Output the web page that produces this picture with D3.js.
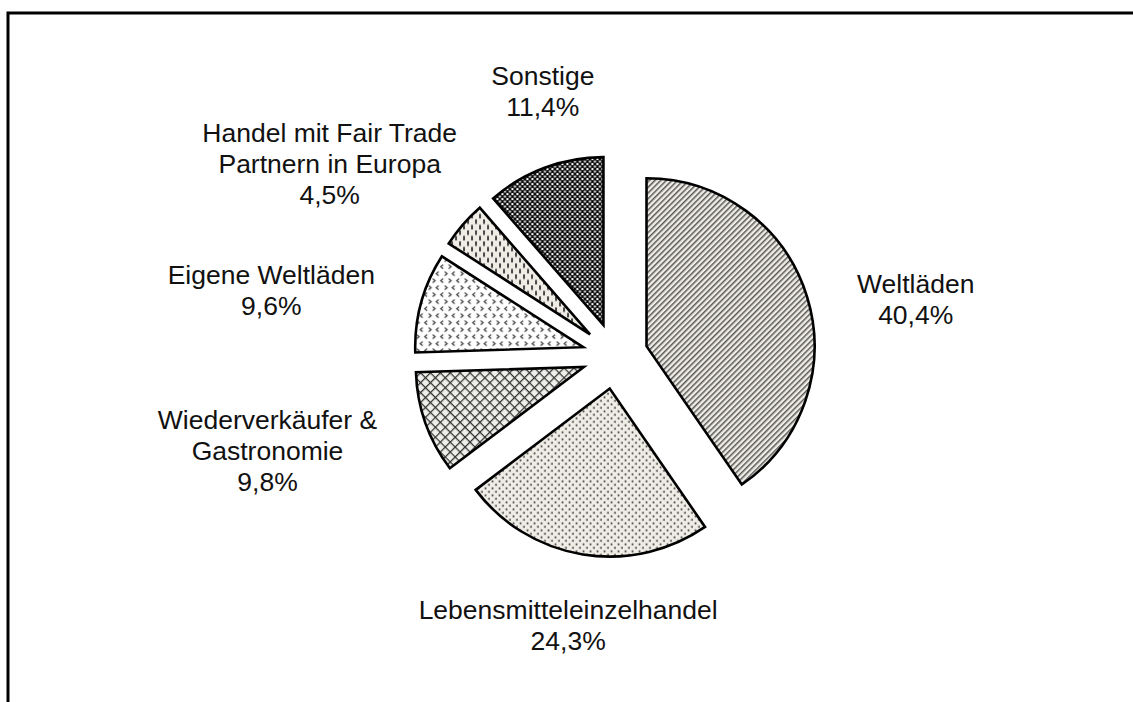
<!DOCTYPE html>
<html>
<head>
<meta charset="utf-8">
<script src="https://cdn.jsdelivr.net/npm/d3@7"></script>
<style>
  body { margin: 0; background: #fff; }
  svg { display: block; }
  text { font-family: "Liberation Sans", Arial, sans-serif; font-size: 26.5px; fill: #111; }
</style>
</head>
<body>
<svg id="chart" width="1133" height="702"></svg>
<script>
// data, clockwise from 12 o'clock
let categories = ["Weltläden", "Lebensmitteleinzelhandel", "Wiederverkäufer & Gastronomie",
                  "Eigene Weltläden", "Handel mit Fair Trade Partnern in Europa", "Sonstige"];
let shares = [40.4, 24.3, 9.8, 9.6, 4.5, 11.4];
let labelLines = [
    ["Weltläden"],
    ["Lebensmitteleinzelhandel"],
    ["Wiederverkäufer &", "Gastronomie"],
    ["Eigene Weltläden"],
    ["Handel mit Fair Trade", "Partnern in Europa"],
    ["Sonstige"]
];
let patterns = ["hatch", "dots", "cross", "chevron", "dash", "checker"];

// label placement: distance from centre and angle nudge (degrees)
let labelR = [306, 273, 360, 350, 344, 275];
let labelNudge = [6.6, 0.7, 4.3, -4.6, -6.9, 5.3];

let fmt = v => d3.format(".1f")(v).replace(".", ",") + "%";

let svg = d3.select("#chart");
let width = 1133, height = 702;

// frame
svg.append("rect")
    .attr("x", 8).attr("y", 13)
    .attr("width", width + 20).attr("height", height + 20)
    .attr("fill", "#fff")
    .attr("stroke", "#000")
    .attr("stroke-width", 3);

let defs = svg.append("defs");
let beige = "#efede6";

// diagonal hatch
let p = defs.append("pattern").attr("id", "hatch").attr("patternUnits", "userSpaceOnUse")
    .attr("width", 4).attr("height", 4).attr("patternTransform", "rotate(45)");
p.append("rect").attr("width", 4).attr("height", 4).attr("fill", beige);
p.append("line").attr("x1", 0.8).attr("y1", 0).attr("x2", 0.8).attr("y2", 4)
    .attr("stroke", "#333").attr("stroke-width", 1.2);

// dots
p = defs.append("pattern").attr("id", "dots").attr("patternUnits", "userSpaceOnUse")
    .attr("width", 7).attr("height", 7);
p.append("rect").attr("width", 7).attr("height", 7).attr("fill", beige);
p.append("circle").attr("cx", 1.75).attr("cy", 1.75).attr("r", 0.9).attr("fill", "#222");
p.append("circle").attr("cx", 5.25).attr("cy", 5.25).attr("r", 0.9).attr("fill", "#222");

// cross hatch
p = defs.append("pattern").attr("id", "cross").attr("patternUnits", "userSpaceOnUse")
    .attr("width", 7).attr("height", 7).attr("patternTransform", "rotate(45)");
p.append("rect").attr("width", 7).attr("height", 7).attr("fill", "#efefeb");
p.append("line").attr("x1", 0.6).attr("y1", 0).attr("x2", 0.6).attr("y2", 7)
    .attr("stroke", "#333").attr("stroke-width", 1.3);
p.append("line").attr("x1", 0).attr("y1", 0.6).attr("x2", 7).attr("y2", 0.6)
    .attr("stroke", "#333").attr("stroke-width", 1.3);

// chevrons
p = defs.append("pattern").attr("id", "chevron").attr("patternUnits", "userSpaceOnUse")
    .attr("width", 16).attr("height", 14);
p.append("rect").attr("width", 16).attr("height", 14).attr("fill", "#fff");
let chev = ["M4,1.5 L1.5,3.5 L4,5.5", "M9.5,1.5 L12,3.5 L9.5,5.5",
            "M5.5,8.5 L8,10.5 L5.5,12.5", "M15.5,8.5 L13,10.5 L15.5,12.5"];
chev.forEach(c => p.append("path").attr("d", c).attr("fill", "none")
    .attr("stroke", "#333").attr("stroke-width", 1.1));

// vertical dashes
p = defs.append("pattern").attr("id", "dash").attr("patternUnits", "userSpaceOnUse")
    .attr("width", 8).attr("height", 11);
p.append("rect").attr("width", 8).attr("height", 11).attr("fill", beige);
p.append("line").attr("x1", 2).attr("y1", 0.5).attr("x2", 2).attr("y2", 5)
    .attr("stroke", "#111").attr("stroke-width", 1.5);
p.append("line").attr("x1", 6).attr("y1", 6).attr("x2", 6).attr("y2", 10.5)
    .attr("stroke", "#111").attr("stroke-width", 1.5);

// checker
p = defs.append("pattern").attr("id", "checker").attr("patternUnits", "userSpaceOnUse")
    .attr("width", 5).attr("height", 5);
p.append("rect").attr("width", 5).attr("height", 5).attr("fill", "#0a0a0a");
p.append("rect").attr("x", 0.5).attr("y", 0.5).attr("width", 2).attr("height", 2).attr("fill", "#fff");
p.append("rect").attr("x", 3).attr("y", 3).attr("width", 2).attr("height", 2).attr("fill", "#fff");

// pie
let cx = 615, cy = 356, radius = 168, explode = 33;
let rows = shares.map((v, i) => ({ name: categories[i], value: v, i: i }));
let pie = d3.pie().sort(null).value(d => d.value);
let arc = d3.arc().innerRadius(0).outerRadius(radius);
let arcs = pie(rows);

let g = svg.append("g").attr("transform", "translate(" + cx + "," + cy + ")");

g.selectAll("path.slice")
    .data(arcs)
    .enter()
    .append("path")
    .attr("class", "slice")
    .attr("d", arc)
    .attr("transform", function(d) {
        let a = (d.startAngle + d.endAngle) / 2;
        return "translate(" + (Math.sin(a) * explode) + "," + (-Math.cos(a) * explode) + ")";
    })
    .attr("fill", function(d) { return "url(#" + patterns[d.data.i] + ")"; })
    .attr("stroke", "#000")
    .attr("stroke-width", 2.6)
    .attr("stroke-linejoin", "miter");

// labels
let lineH = 31;
let lab = g.selectAll("text.label")
    .data(arcs)
    .enter()
    .append("text")
    .attr("class", "label")
    .attr("text-anchor", "middle")
    .attr("transform", function(d) {
        let i = d.data.i;
        let a = (d.startAngle + d.endAngle) / 2 + labelNudge[i] * Math.PI / 180;
        let n = labelLines[i].length + 1;
        let x = Math.sin(a) * labelR[i];
        let y = -Math.cos(a) * labelR[i] - (n - 1) * lineH / 2 + 9.5;
        return "translate(" + x + "," + y + ")";
    });

lab.each(function(d) {
    let t = d3.select(this);
    let lines = labelLines[d.data.i].concat([fmt(d.data.value)]);
    lines.forEach(function(s, k) {
        t.append("tspan").attr("x", 0).attr("dy", k === 0 ? 0 : lineH).text(s);
    });
});
</script>
</body>
</html>
